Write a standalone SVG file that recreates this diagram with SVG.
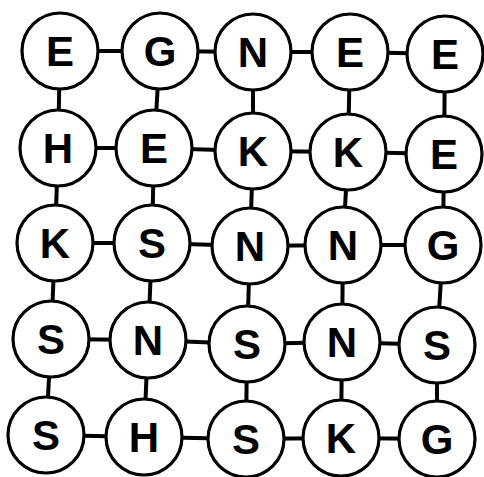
<svg xmlns="http://www.w3.org/2000/svg" width="484" height="477" viewBox="0 0 484 477">
<style>
.n circle{fill:#fff;stroke:#000;stroke-width:3.2}
.n text{font-family:"Liberation Sans",Arial,sans-serif;font-weight:bold;font-size:42px;text-anchor:middle;fill:#000}
#connectors line{stroke:#000;stroke-width:4}
</style>
<rect width="484" height="477" fill="#fff"/>
<g id="connectors">
<line x1="60" y1="51" x2="160" y2="51"/><line x1="160" y1="51" x2="253" y2="52"/><line x1="253" y1="52" x2="350" y2="52"/><line x1="350" y1="52" x2="445" y2="54"/>
<line x1="58" y1="148" x2="154" y2="148"/><line x1="154" y1="148" x2="253" y2="151"/><line x1="253" y1="151" x2="348" y2="152"/><line x1="348" y1="152" x2="444" y2="154"/>
<line x1="55" y1="243" x2="152" y2="243"/><line x1="152" y1="243" x2="250" y2="246"/><line x1="250" y1="246" x2="343" y2="245"/><line x1="343" y1="245" x2="443" y2="245"/>
<line x1="51" y1="339" x2="148" y2="340"/><line x1="148" y1="340" x2="247" y2="344"/><line x1="247" y1="344" x2="342" y2="342"/><line x1="342" y1="342" x2="437" y2="345"/>
<line x1="46" y1="435" x2="144" y2="437"/><line x1="144" y1="437" x2="246" y2="439"/><line x1="246" y1="439" x2="341" y2="438"/><line x1="341" y1="438" x2="437" y2="439"/>
<line x1="60" y1="51" x2="58" y2="148"/><line x1="58" y1="148" x2="55" y2="243"/><line x1="55" y1="243" x2="51" y2="339"/><line x1="51" y1="339" x2="46" y2="435"/>
<line x1="160" y1="51" x2="154" y2="148"/><line x1="154" y1="148" x2="152" y2="243"/><line x1="152" y1="243" x2="148" y2="340"/><line x1="148" y1="340" x2="144" y2="437"/>
<line x1="253" y1="52" x2="253" y2="151"/><line x1="253" y1="151" x2="250" y2="246"/><line x1="250" y1="246" x2="247" y2="344"/><line x1="247" y1="344" x2="246" y2="439"/>
<line x1="350" y1="52" x2="348" y2="152"/><line x1="348" y1="152" x2="343" y2="245"/><line x1="343" y1="245" x2="342" y2="342"/><line x1="342" y1="342" x2="341" y2="438"/>
<line x1="445" y1="54" x2="444" y2="154"/><line x1="444" y1="154" x2="443" y2="245"/><line x1="443" y1="245" x2="437" y2="345"/><line x1="437" y1="345" x2="437" y2="439"/>
</g>
<g id="n11" class="n"><circle cx="60" cy="51" r="38"/><text x="60" y="66">E</text></g>
<g id="n12" class="n"><circle cx="160" cy="51" r="38"/><text x="160" y="66">G</text></g>
<g id="n13" class="n"><circle cx="253" cy="52" r="38"/><text x="253" y="67">N</text></g>
<g id="n14" class="n"><circle cx="350" cy="52" r="38"/><text x="350" y="67">E</text></g>
<g id="n15" class="n"><circle cx="445" cy="54" r="38"/><text x="445" y="69">E</text></g>
<g id="n21" class="n"><circle cx="58" cy="148" r="38"/><text x="58" y="163">H</text></g>
<g id="n22" class="n"><circle cx="154" cy="148" r="38"/><text x="154" y="163">E</text></g>
<g id="n23" class="n"><circle cx="253" cy="151" r="38"/><text x="253" y="166">K</text></g>
<g id="n24" class="n"><circle cx="348" cy="152" r="38"/><text x="348" y="167">K</text></g>
<g id="n25" class="n"><circle cx="444" cy="154" r="38"/><text x="444" y="169">E</text></g>
<g id="n31" class="n"><circle cx="55" cy="243" r="38"/><text x="55" y="258">K</text></g>
<g id="n32" class="n"><circle cx="152" cy="243" r="38"/><text x="152" y="258">S</text></g>
<g id="n33" class="n"><circle cx="250" cy="246" r="38"/><text x="250" y="261">N</text></g>
<g id="n34" class="n"><circle cx="343" cy="245" r="38"/><text x="343" y="260">N</text></g>
<g id="n35" class="n"><circle cx="443" cy="245" r="38"/><text x="443" y="260">G</text></g>
<g id="n41" class="n"><circle cx="51" cy="339" r="38"/><text x="51" y="354">S</text></g>
<g id="n42" class="n"><circle cx="148" cy="340" r="38"/><text x="148" y="355">N</text></g>
<g id="n43" class="n"><circle cx="247" cy="344" r="38"/><text x="247" y="359">S</text></g>
<g id="n44" class="n"><circle cx="342" cy="342" r="38"/><text x="342" y="357">N</text></g>
<g id="n45" class="n"><circle cx="437" cy="345" r="38"/><text x="437" y="360">S</text></g>
<g id="n51" class="n"><circle cx="46" cy="435" r="38"/><text x="46" y="450">S</text></g>
<g id="n52" class="n"><circle cx="144" cy="437" r="38"/><text x="144" y="452">H</text></g>
<g id="n53" class="n"><circle cx="246" cy="439" r="38"/><text x="246" y="454">S</text></g>
<g id="n54" class="n"><circle cx="341" cy="438" r="38"/><text x="341" y="453">K</text></g>
<g id="n55" class="n"><circle cx="437" cy="439" r="38"/><text x="437" y="454">G</text></g>
</svg>
